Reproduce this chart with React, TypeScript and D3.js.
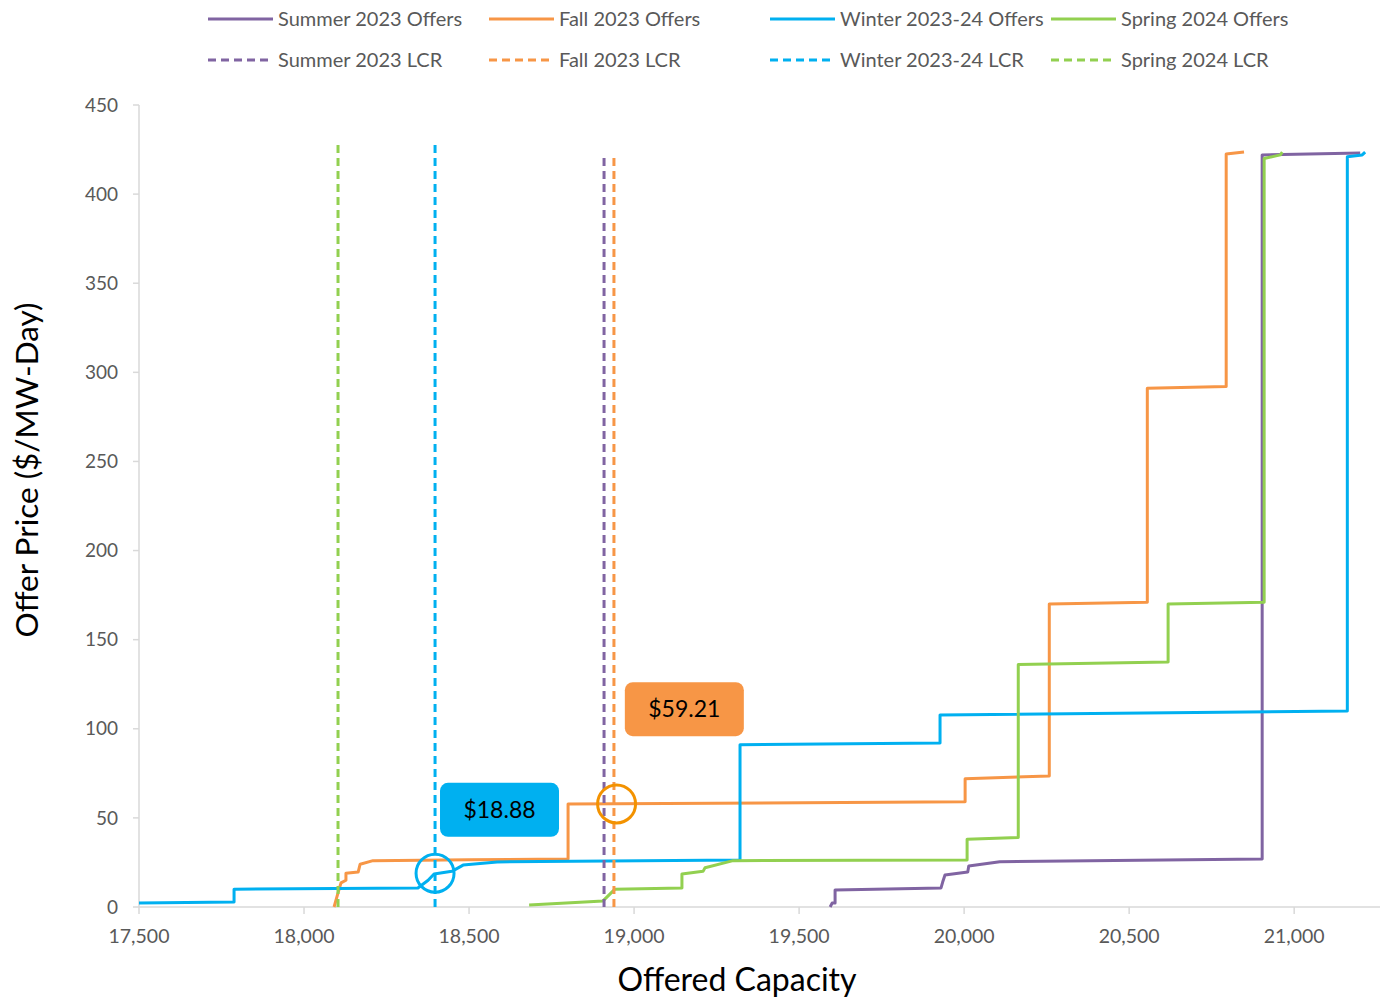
import * as d3 from "d3";

const W = 1382;
const H = 997;
const X0 = 139;
const X1 = 1380;
const Y0 = 907;
const Y1 = 105;

// offer curves as [capacity, price] points
const summerOffers: [number, number][] = [
  [19594, 0], [19600, 2.2], [19609, 2.2], [19609, 9.5], [19930, 10.7], [19935, 14], [19942, 18],
  [20011, 19.6], [20014, 23], [20108, 25.4], [20903, 26.9], [20903, 422], [21200, 423],
];
const fallOffers: [number, number][] = [
  [18091, 0], [18100, 6], [18112, 13.5], [18127, 15], [18127, 19], [18164, 19.6], [18170, 24],
  [18209, 26], [18500, 26.5], [18800, 27], [18800, 57.8], [20003, 59], [20003, 72], [20258, 73.5],
  [20258, 170], [20555, 171], [20555, 291], [20794, 292], [20794, 422.5], [20848, 423.6],
];
const winterOffers: [number, number][] = [
  [17500, 2.2], [17788, 2.8], [17788, 10], [18345, 10.7], [18376, 15], [18394, 18.5], [18448, 20],
  [18482, 23.5], [18585, 25.3], [19321, 26.4], [19321, 91], [19927, 92], [19927, 107.7],
  [21161, 110], [21161, 421], [21206, 422], [21215, 423.6],
];
const springOffers: [number, number][] = [
  [18682, 1.1], [18906, 3.4], [18942, 10], [19145, 10.7], [19145, 18.5], [19209, 20], [19215, 22],
  [19300, 26], [20009, 26.4], [20009, 38], [20164, 39], [20164, 136], [20618, 137.5], [20618, 170],
  [20909, 171], [20909, 420], [20958, 422], [20964, 423.6],
];

const seriesNames = ["Summer 2023", "Fall 2023", "Winter 2023-24", "Spring 2024"];
const seriesColors = ["#8064A2", "#F79646", "#00B0F0", "#92D050"];
const offers = [summerOffers, fallOffers, winterOffers, springOffers];
const lcrCapacity = [18909, 18939, 18397, 18103];
const lcrTop = [421, 421, 428, 429];

const xTicks = [17500, 18000, 18500, 19000, 19500, 20000, 20500, 21000];
const yTicks = [0, 50, 100, 150, 200, 250, 300, 350, 400, 450];

// clearing price callouts (ring around the crossing, label box nearby)
const callouts = [
  { label: "$18.88", ringCap: 18397, ringPrice: 19, color: "#00B0F0", ring: "#00B0F0", bx: 18412, by: 54.5 },
  { label: "$59.21", ringCap: 18947, ringPrice: 57.8, color: "#F79646", ring: "#F39200", bx: 18972, by: 111 },
];

const legendX = [208, 489, 770, 1051];
const FONT = "Lato, 'Open Sans', sans-serif";

export default function App() {
  const x = d3.scaleLinear().domain([17500, 21260]).range([X0, X1]);
  const y = d3.scaleLinear().domain([0, 450]).range([Y0, Y1]);
  const line = d3
    .line<[number, number]>()
    .x((d) => x(d[0]))
    .y((d) => y(d[1]));

  return (
    <svg width={W} height={H} style={{ display: "block", position: "absolute", left: 0, top: 0 }} fontFamily={FONT}>
      <rect width={W} height={H} fill="#fff" />

      {/* legend */}
      {seriesNames.map((name, i) => (
        <g key={name}>
          <line x1={legendX[i]} x2={legendX[i] + 65} y1={19} y2={19} stroke={seriesColors[i]} strokeWidth={3} />
          <text x={legendX[i] + 70} y={19} dy="0.35em" fontSize={20} fill="#595959">{name} Offers</text>
          <line x1={legendX[i]} x2={legendX[i] + 65} y1={60} y2={60} stroke={seriesColors[i]} strokeWidth={3} strokeDasharray="8,5" />
          <text x={legendX[i] + 70} y={60} dy="0.35em" fontSize={20} fill="#595959">{name} LCR</text>
        </g>
      ))}

      {/* axes */}
      <line x1={X0} x2={X0} y1={Y1} y2={Y0} stroke="#d9d9d9" strokeWidth={1.5} />
      <line x1={X0} x2={X1} y1={Y0} y2={Y0} stroke="#d9d9d9" strokeWidth={1.5} />
      {yTicks.map((t) => (
        <g key={t}>
          <line x1={X0 - 6} x2={X0} y1={y(t)} y2={y(t)} stroke="#d9d9d9" strokeWidth={1.5} />
          <text x={118} y={y(t)} dy="0.35em" textAnchor="end" fontSize={19} fill="#595959">{t}</text>
        </g>
      ))}
      {xTicks.map((t) => (
        <g key={t}>
          <line x1={x(t)} x2={x(t)} y1={Y0} y2={Y0 + 7} stroke="#d9d9d9" strokeWidth={1.5} />
          <text x={x(t)} y={936} dy="0.35em" textAnchor="middle" fontSize={19.5} fill="#595959">{d3.format(",")(t)}</text>
        </g>
      ))}
      <text x={737} y={980} dy="0.35em" textAnchor="middle" fontSize={32} fill="#000">Offered Capacity</text>
      <text transform={`translate(27,470) rotate(-90)`} dy="0.35em" textAnchor="middle" fontSize={31.5} fill="#000">
        Offer Price ($/MW-Day)
      </text>

      {/* offer curves */}
      {offers.map((pts, i) => (
        <path key={i} d={line(pts) ?? ""} fill="none" stroke={seriesColors[i]} strokeWidth={3} strokeLinejoin="round" />
      ))}

      {/* LCR lines */}
      {lcrCapacity.map((c, i) => (
        <line key={i} x1={x(c)} x2={x(c)} y1={y(0)} y2={y(lcrTop[i])} stroke={seriesColors[i]} strokeWidth={3} strokeDasharray="8,5" />
      ))}

      {/* callouts */}
      {callouts.map((c) => (
        <g key={c.label}>
          <circle cx={x(c.ringCap)} cy={y(c.ringPrice)} r={19} fill="none" stroke={c.ring} strokeWidth={3} />
          <rect x={x(c.bx)} y={y(c.by) - 27} width={119} height={54} rx={8} fill={c.color} />
          <text x={x(c.bx) + 59.5} y={y(c.by)} dy="0.35em" textAnchor="middle" fontSize={23} fill="#000">{c.label}</text>
        </g>
      ))}
    </svg>
  );
}
